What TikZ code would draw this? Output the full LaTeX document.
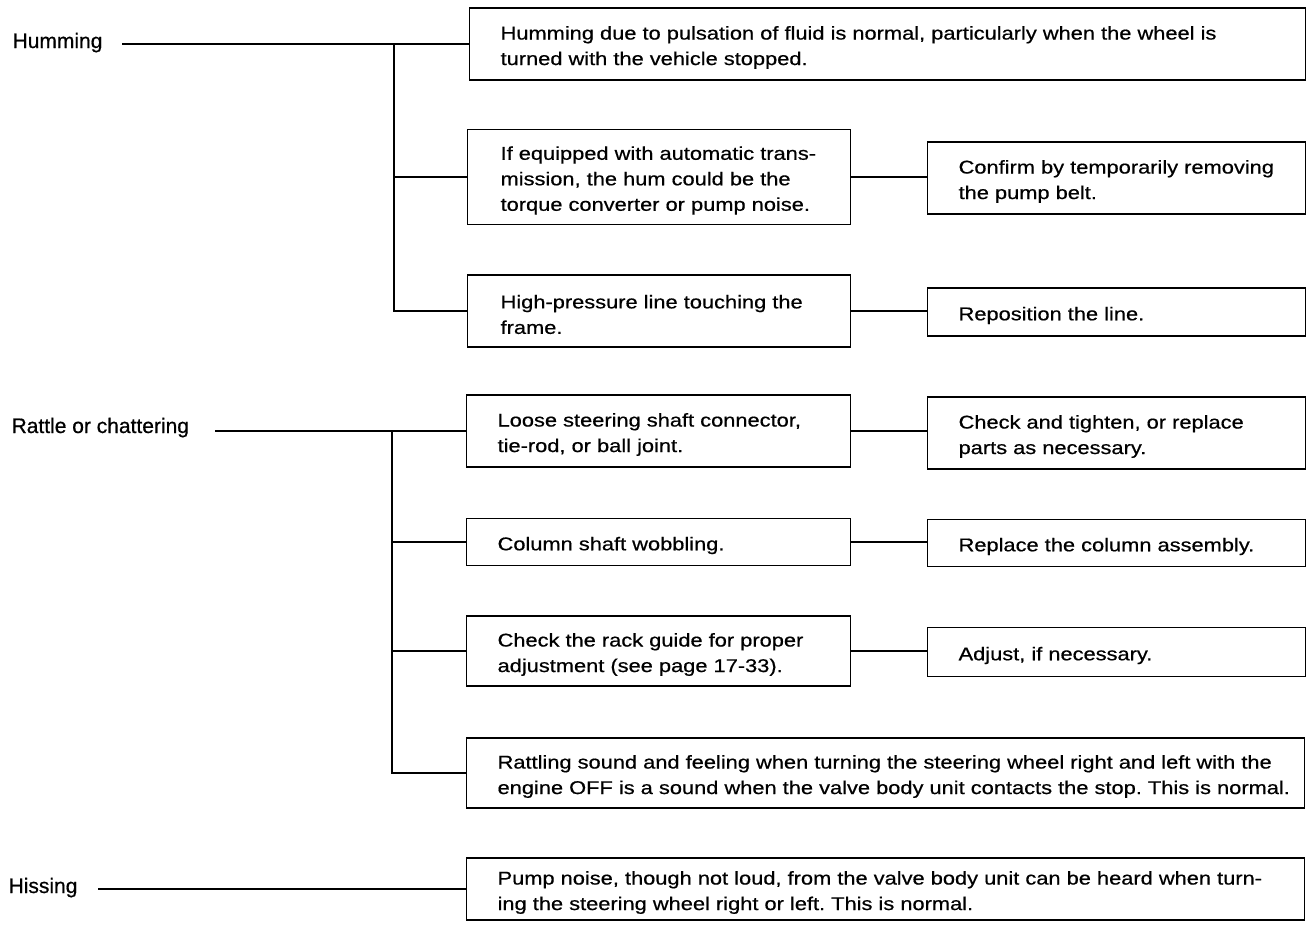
\documentclass[tikz,border=0pt]{standalone}
\usepackage{fontspec}
\setmainfont{Liberation Sans}[FakeStretch=1.18,FakeBold=0.6]
\newfontfamily\lblfont{Liberation Sans}[FakeBold=0.6]
\usetikzlibrary{positioning}
\frenchspacing
\begin{document}
\begin{tikzpicture}[x=1pt,y=-1pt,line width=1.2pt,
  box/.style={draw,anchor=west,inner sep=0pt},
  txt/.style={inner sep=0pt,yshift=-3.5pt,align=left,font=\fontsize{18.5}{25.5}\selectfont},
  lbl/.style={inner sep=0pt,anchor=base west,font=\lblfont\fontsize{21}{25}\selectfont}]
\useasboundingbox (0,0) rectangle (1306,929);

\node[lbl] (humL) at (12,48) {Humming};
\node[box,minimum width=836pt,minimum height=72pt] (hum) at (469,44) {};
\node[txt,right=31pt of hum.west] (humT) {Humming due to pulsation of fluid is normal, particularly when the wheel is\\turned with the vehicle stopped.};
\node[box,minimum width=383pt,minimum height=95pt] (humA) at (467,177) {};
\node[txt,right=33pt of humA.west] (humAT) {If equipped with automatic trans-\\mission, the hum could be the\\torque converter or pump noise.};
\node[box,minimum width=378pt,minimum height=72pt] (humAfix) at (927,178) {};
\node[txt,right=31pt of humAfix.west] (humAfixT) {Confirm by temporarily removing\\the pump belt.};
\node[box,minimum width=383pt,minimum height=72pt] (humB) at (467,311) {};
\node[txt,right=33pt of humB.west] (humBT) {High-pressure line touching the\\frame.};
\node[box,minimum width=378pt,minimum height=48pt] (humBfix) at (927,312) {};
\node[txt,right=31pt of humBfix.west] (humBfixT) {Reposition the line.};

\node[lbl] (ratL) at (11,433) {Rattle or chattering};
\node[box,minimum width=384pt,minimum height=72pt] (ratA) at (466,431) {};
\node[txt,right=31pt of ratA.west] (ratAT) {Loose steering shaft connector,\\tie-rod, or ball joint.};
\node[box,minimum width=378pt,minimum height=72pt] (ratAfix) at (927,433) {};
\node[txt,right=31pt of ratAfix.west] (ratAfixT) {Check and tighten, or replace\\parts as necessary.};
\node[box,minimum width=384pt,minimum height=47pt] (ratB) at (466,542) {};
\node[txt,right=31pt of ratB.west] (ratBT) {Column shaft wobbling.};
\node[box,minimum width=378pt,minimum height=47pt] (ratBfix) at (927,543) {};
\node[txt,right=31pt of ratBfix.west] (ratBfixT) {Replace the column assembly.};
\node[box,minimum width=384pt,minimum height=70pt] (ratC) at (466,651) {};
\node[txt,right=31pt of ratC.west] (ratCT) {Check the rack guide for proper\\adjustment (see page 17-33).};
\node[box,minimum width=378pt,minimum height=49pt] (ratCfix) at (927,652) {};
\node[txt,right=31pt of ratCfix.west] (ratCfixT) {Adjust, if necessary.};
\node[box,minimum width=838pt,minimum height=70pt] (ratD) at (466,773) {};
\node[txt,right=31pt of ratD.west] (ratDT) {Rattling sound and feeling when turning the steering wheel right and left with the\\engine OFF is a sound when the valve body unit contacts the stop. This is normal.};

\node[lbl] (hisL) at (8,893) {Hissing};
\node[box,minimum width=838pt,minimum height=62pt] (his) at (466,889) {};
\node[txt,right=31pt of his.west] (hisT) {Pump noise, though not loud, from the valve body unit can be heard when turn-\\ing the steering wheel right or left. This is normal.};

\coordinate (humS) at (122,44);
\coordinate (humJ) at (394,44);
\draw (humS) -- (hum.west);
\draw (humJ) |- (humA.west);
\draw (humJ) |- (humB.west);
\draw (humA.east) -- (humA.east -| humAfix.west);
\draw (humB.east) -- (humB.east -| humBfix.west);

\coordinate (ratS) at (215,431);
\coordinate (ratJ) at (392,431);
\draw (ratS) -- (ratA.west);
\draw (ratJ) |- (ratB.west);
\draw (ratJ) |- (ratC.west);
\draw (ratJ) |- (ratD.west);
\draw (ratA.east) -- (ratA.east -| ratAfix.west);
\draw (ratB.east) -- (ratB.east -| ratBfix.west);
\draw (ratC.east) -- (ratC.east -| ratCfix.west);

\coordinate (hisS) at (98,889);
\draw (hisS) -- (his.west);
\end{tikzpicture}
\end{document}
